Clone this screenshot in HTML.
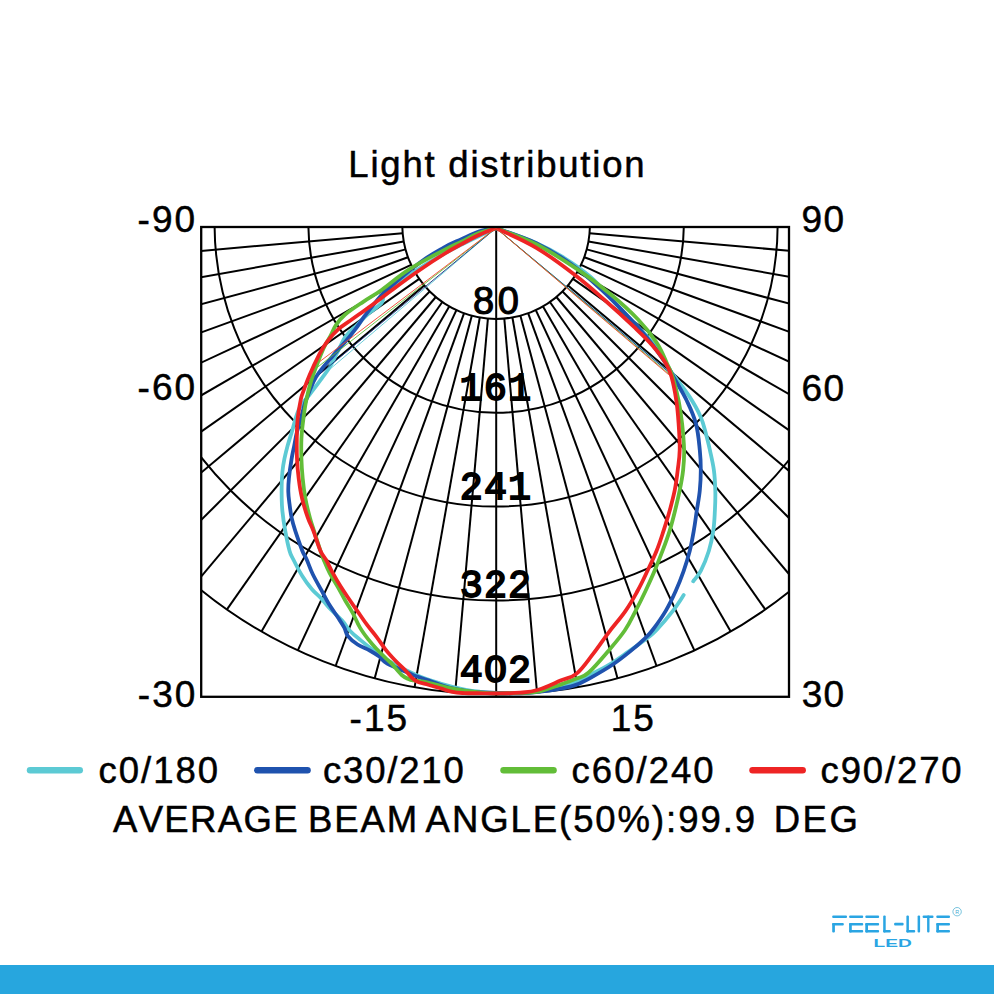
<!DOCTYPE html>
<html><head><meta charset="utf-8"><title>Light distribution</title>
<style>
html,body{margin:0;padding:0;background:#fff;}
body{width:994px;height:994px;overflow:hidden;position:relative;font-family:"Liberation Sans",sans-serif;}
svg{position:absolute;left:0;top:0;display:block;}
text{font-family:"Liberation Sans",sans-serif;fill:#000;}
.m{font-family:"Liberation Mono",monospace;font-weight:normal;stroke-width:1.8;letter-spacing:1.1px;}
</style></head>
<body>
<svg width="994" height="994" viewBox="0 0 994 994">
<defs><clipPath id="box"><rect x="201.2" y="227" width="587.8" height="469.8"/></clipPath></defs>
<rect x="0" y="0" width="994" height="994" fill="#fff"/>
<!-- grid -->
<g clip-path="url(#box)" fill="none" stroke="#000" stroke-width="2">
<circle cx="496.1" cy="225.1" r="93.8"/>
<circle cx="496.1" cy="225.1" r="187.7"/>
<circle cx="496.1" cy="225.1" r="281.5"/>
<circle cx="496.1" cy="225.1" r="375.4"/>
<circle cx="496.1" cy="225.1" r="469.2"/>
<path d="M487.9 318.6L455.2 692.5"/>
<path d="M504.3 318.6L537 692.5"/>
<path d="M479.8 317.5L414.6 687.2"/>
<path d="M512.4 317.5L577.6 687.2"/>
<path d="M471.8 315.7L374.7 678.3"/>
<path d="M520.4 315.7L617.5 678.3"/>
<path d="M464 313.3L335.6 666"/>
<path d="M528.2 313.3L656.6 666"/>
<path d="M456.4 310.1L297.8 650.3"/>
<path d="M535.8 310.1L694.4 650.3"/>
<path d="M449.2 306.4L261.5 631.4"/>
<path d="M543 306.4L730.7 631.4"/>
<path d="M442.3 302L227 609.4"/>
<path d="M549.9 302L765.2 609.4"/>
<path d="M435.8 297L194.5 584.5"/>
<path d="M556.4 297L797.7 584.5"/>
<path d="M429.7 291.5L164.3 556.9"/>
<path d="M562.5 291.5L827.9 556.9"/>
<path d="M424.2 285.4L136.7 526.7"/>
<path d="M568 285.4L855.5 526.7"/>
<path d="M419.2 278.9L111.8 494.2"/>
<path d="M573 278.9L880.4 494.2"/>
<path d="M414.8 272L89.8 459.7"/>
<path d="M577.4 272L902.4 459.7"/>
<path d="M411.1 264.8L70.9 423.4"/>
<path d="M581.1 264.8L921.3 423.4"/>
<path d="M407.9 257.2L55.2 385.6"/>
<path d="M584.3 257.2L937 385.6"/>
<path d="M405.5 249.4L42.9 346.5"/>
<path d="M586.7 249.4L949.3 346.5"/>
<path d="M403.7 241.4L34 306.6"/>
<path d="M588.5 241.4L958.2 306.6"/>
<path d="M402.6 233.3L28.7 266"/>
<path d="M589.6 233.3L963.5 266"/>
</g>
<path d="M496.2 227V696.8" stroke="#000" stroke-width="2" fill="none"/>
<!-- circle value labels -->
<g text-anchor="middle" stroke="#000" stroke-width="0.5">
<text x="497.8" y="314" font-size="38" letter-spacing="3.6" stroke-width="1.1">80</text>
<text class="m" x="496" y="399.8" font-size="38.6">161</text>
<text class="m" x="496" y="498.6" font-size="38.4">241</text>
<text class="m" x="496" y="596.5" font-size="38.4">322</text>
<text class="m" x="496" y="682.4" font-size="38.4">4O2</text>
</g>
<!-- curves -->
<g fill="none" stroke-width="3.8" stroke-linejoin="round" stroke-linecap="round">
<path d="M496 228.1C485.7 233.2 459.5 244.7 440 256C420.5 267.3 400.1 281.4 389.4 290C378.7 298.6 385.4 298.8 381.6 303.1C377.8 307.4 372.8 309.7 368.5 313.5C364.2 317.3 362.1 319.9 358 324C353.9 328.1 349.6 331.5 346.2 335.8C342.8 340.1 342.6 342 339.7 347.5C336.8 353 333.9 360.1 330.5 365.9C327.1 371.7 325.2 373.6 321.4 378.9C317.6 384.2 313.7 389.1 309.6 394.6C305.5 400.1 302.3 402 299 409C295.7 416 293.7 426 291.6 432.7C289.5 439.4 288.9 441 287.6 445.8C286.3 450.6 285.4 454.1 284.4 458.9C283.4 463.7 282.9 467.1 282.4 471.9C281.9 476.7 281.8 480.2 281.7 485C281.6 489.8 281.6 493.3 281.7 498.1C281.8 502.9 281.8 505.2 282.4 511.2C283 517.2 283.9 523.4 285.2 530.6C286.5 537.8 288 545.3 289.5 550.7C291 556.1 291.3 555.4 293.6 560C295.9 564.6 298.8 570.4 302.1 575.7C305.4 581 308.2 584.8 311.7 589C315.2 593.2 318.3 595.3 321.4 598.6C324.5 601.9 324.8 603.1 328.6 607.1C332.4 611.1 337.9 616 341.9 620.4C345.9 624.8 347.1 627.7 350.4 631.2C353.7 634.7 356 636.4 360 639.7C364 643 366.9 645.4 372.1 649.3C377.3 653.2 380.3 656.3 388.4 661C396.5 665.7 406.7 670.9 416.2 675C425.7 679.1 431.5 680.8 440.4 683.5C449.3 686.2 457.2 688 464.5 689.5C471.8 691 474 691.2 480 691.8C486 692.4 489.7 692.8 497 693C504.3 693.2 512 693.3 520 693C528 692.7 533 692.5 540.4 691.3C547.8 690.1 553.9 688.4 560.5 686.6C567.1 684.8 570.7 684 576.6 681.6C582.5 679.2 586.1 677.1 592.7 673.6C599.3 670.1 606.2 666.6 612.8 662.5C619.4 658.4 622.6 655.8 628.9 651.4C635.2 647 641.9 642.2 647 638.3C652.1 634.4 651.9 635 656.6 630C661.3 625 667.7 617.5 672.7 611.1C677.7 604.7 681.7 598 683.7 595M693.2 581.3C694.6 579.4 697.9 576.4 700.8 570.8C703.7 565.2 706.6 558.1 708.9 550.7C711.2 543.3 712.2 538 713.3 530.6C714.4 523.2 714.5 517.9 714.9 510.5C715.3 503.1 715.5 497.8 715.3 490.4C715.1 483 714.9 477.6 713.9 470.2C712.9 462.8 711.3 456.5 709.9 450.1C708.5 443.7 708 441.3 706.3 435.2C704.6 429.1 703.8 423.9 700.6 416.7C697.4 409.5 694.5 404.3 689 395.9C683.5 387.5 677.4 380.8 670.5 370.8C663.6 360.8 660.7 353 651.2 341.3C641.7 329.6 629.7 318.6 618.6 306.8C607.5 295 600.8 286.1 590.6 277C580.4 267.9 573 263.4 563 257.2C553 251 548.3 248.3 536 243C523.7 237.7 503.3 230.8 496 228.1" stroke="#5ccad4"/>
<path d="M329.2 369.8L496 228.1L670.6 373" stroke="#5fc8d8" stroke-width="0.9"/>
<path d="M496 228.1C493 228.7 485.8 229.4 479.5 231.4C473.2 233.4 468 236.2 461.4 239.2C454.8 242.2 450.8 243.6 443.3 247.8C435.8 252 430.8 254.5 420.4 262.2C410 269.9 395.4 282.3 386.8 290C378.2 297.7 377.8 299.6 373.7 304.4C369.6 309.2 367.9 311.7 364.5 316.2C361.1 320.7 359 324.4 355.4 329.2C351.8 334 349 337.5 344.9 342.3C340.8 347.1 337.7 350.1 333.2 355.4C328.7 360.7 323.7 366.3 320.1 371.1C316.5 375.9 316.1 376.1 313.5 381.6C310.9 387.1 308.1 394.2 305.7 401.2C303.3 408.2 302.1 414.2 300.5 420C298.9 425.8 298 428 296.8 432.7C295.6 437.4 295.2 441 294.2 445.8C293.2 450.6 292.6 452.9 291.6 458.9C290.6 464.9 289.5 472.5 288.9 478.5C288.3 484.5 288.2 486.8 288.3 491.6C288.4 496.4 289 499.8 289.6 504.6C290.2 509.4 290.6 512.9 291.6 517.7C292.6 522.5 293.2 524.6 295.2 530.6C297.2 536.6 300.2 545.3 302.3 550.7C304.4 556.1 305 555.6 306.9 560C308.8 564.4 310.2 569 312.9 574.5C315.6 580 318.5 584.9 321.4 590.2C324.3 595.5 325.5 598.4 328.6 603.5C331.7 608.6 335.4 613.6 338.3 618C341.2 622.4 342.5 624.3 344.3 627.6C346.1 630.9 345.5 633 347.9 636.1C350.3 639.2 353.6 641.9 357.6 644.5C361.6 647.1 365.7 648.3 369.7 650.5C373.7 652.7 376.1 654.2 379.3 656.6C382.5 659 382 660.6 387.2 663.5C392.4 666.4 402.5 670.3 407.8 672.6C413.1 674.9 412.4 674.8 416.2 676.2C420 677.6 423.9 678.8 428.3 680.4C432.7 682 436 683.3 440.4 684.7C444.8 686.1 448 687.2 452.4 688.3C456.8 689.4 460.5 690 464.5 690.7C468.5 691.4 469.7 691.5 474.2 691.9C478.7 692.3 480.6 692.4 489 692.7C497.4 693 510.8 693.5 520.2 693.3C529.6 693.1 533 692.5 540.4 691.7C547.8 690.9 553.9 690 560.5 688.7C567.1 687.4 570.7 686.8 576.6 684.6C582.5 682.4 586.1 680.3 592.7 676.6C599.3 672.9 606.2 668.9 612.8 664.5C619.4 660.1 623 657.2 628.9 652.4C634.8 647.6 640.7 642.4 645 638.3C649.3 634.2 648.8 635 652.6 630C656.4 625 661.4 618.2 665.6 611.1C669.8 604 672.4 598.4 675.7 591C679 583.6 681.1 578.2 683.7 570.8C686.3 563.4 687.9 558.1 689.8 550.7C691.7 543.3 692.5 538 693.8 530.6C695.1 523.2 695.7 517.9 696.8 510.5C697.9 503.1 699.1 497.8 699.8 490.4C700.5 483 700.8 477.6 700.8 470.2C700.8 462.8 700.7 458.6 699.8 450.1C698.9 441.6 698.3 432.7 695.9 423.6C693.5 414.5 690.5 408.5 686.7 400.5C682.9 392.5 678.9 386.5 675.1 379.7C671.3 372.9 671 371.1 665.9 363.5C660.8 355.9 654.1 346.5 647.3 338C640.5 329.5 637.3 326.1 628.8 317.2C620.3 308.3 611.7 299.2 601.1 289.4C590.5 279.6 582.9 272.5 571 264C559.1 255.5 550 249.7 536.3 243.1C522.5 236.5 503.4 230.8 496 228.1" stroke="#1f52ae"/>
<path d="M320.1 373.7L496 228.1L670.2 373.3" stroke="#17307c" stroke-width="0.9"/>
<path d="M496 228.1C493 229 485.8 230.3 479.5 232.8C473.2 235.3 468 238.4 461.4 241.6C454.8 244.8 453.1 245.1 443.5 250.3C433.9 255.5 420.1 262.4 408.8 269.7C397.5 277 390 284.1 381.6 290C373.2 295.9 369.9 297.3 363.2 301.8C356.5 306.3 349.9 310.5 344.9 314.8C339.9 319.1 338.4 321.4 335.8 325.3C333.2 329.2 332.7 331.7 330.5 335.8C328.3 339.9 326.4 342.5 324 347.5C321.6 352.5 319.9 356.9 317.5 363.2C315.1 369.5 313 374.6 310.9 381.6C308.8 388.6 307.5 394.2 306.1 401.2C304.7 408.2 304.2 412.6 303.3 419.6C302.4 426.6 301.7 432 301.4 439.2C301.1 446.4 301.2 451.7 301.4 458.9C301.6 466.1 302 471.3 302.7 478.5C303.4 485.7 304 490.9 305.3 498.1C306.6 505.3 308.3 511.7 309.9 517.7C311.5 523.7 312 524.6 313.9 530.6C315.8 536.6 318.6 545.3 320.4 550.7C322.2 556.1 322.1 555.9 323.8 560C325.5 564.1 327.1 568.2 329.8 573.3C332.5 578.4 335.4 582.7 338.3 587.8C341.2 592.9 342.8 596.4 345.5 601C348.2 605.6 350.1 608.2 352.8 613.1C355.5 618 357.1 622.7 360 627.6C362.9 632.5 365.4 635.7 368.5 639.7C371.6 643.7 373.6 645.8 376.9 649.3C380.2 652.8 383.8 656.3 386.6 659C389.4 661.7 389.3 661.2 392.1 664.1C394.9 667 398.6 672.2 401.7 675C404.8 677.8 406.8 678.2 409 679.2C411.2 680.2 410.3 679.8 413.8 680.4C417.3 681 421.8 681.3 428 682.6C434.2 683.9 440.9 686.2 447.6 687.7C454.3 689.2 458.2 689.8 464.5 690.7C470.8 691.6 476 692.1 482 692.6C488 693.1 490 693.2 497 693.3C504 693.4 512.6 693.2 520.2 692.9C527.8 692.6 531 693.2 538.4 691.7C545.8 690.2 553.5 687 560.5 684.6C567.5 682.2 571.4 680.8 576.6 678.6C581.8 676.4 582.8 677.7 588.7 672.5C594.6 667.3 602.2 658.1 608.8 650.4C615.4 642.7 620 637.5 624.9 630.3C629.8 623.1 631.7 618.3 635.5 611.1C639.3 603.9 642 598.4 645.5 591C649 583.6 651.5 578.2 654.6 570.8C657.7 563.4 659.8 558.1 662.6 550.7C665.4 543.3 667.4 538 669.7 530.6C672 523.2 673.3 517.9 675.1 510.5C676.9 503.1 678.2 497.8 679.7 490.4C681.2 483 682.3 477.6 683.1 470.2C683.9 462.8 684.3 458.6 684.1 450.1C683.9 441.6 683.1 432.7 682.1 423.6C681.1 414.5 680.3 409 678.6 400.5C676.9 392 674.9 384.1 672.8 377.3C670.7 370.5 670 369.9 667 363.5C664 357.1 661.9 350.7 656.6 342.6C651.3 334.5 646.6 328.4 638.1 319.5C629.6 310.6 621.3 303.1 610.3 294C599.3 284.9 591.5 278.8 577.9 269.7C564.3 260.6 551.3 251.9 536.3 244.3C521.3 236.7 503.4 231.1 496 228.1" stroke="#62bd38"/>
<path d="M317.5 367.2L496 228.1L669.2 374.1" stroke="#62bd38" stroke-width="0.9"/>
<path d="M496 228.1C493 229.3 485.8 231.8 479.5 234.8C473.2 237.8 467.7 240.8 461.4 244.2C455.1 247.6 452.8 248.7 445 253.5C437.2 258.3 428.7 263.8 419 270.5C409.3 277.2 400.8 283.5 392 290C383.2 296.5 378.3 300.4 371.1 305.7C363.9 311 358.8 314.5 352.8 318.8C346.8 323.1 343.2 324.9 338.4 329.2C333.6 333.5 330.2 337.5 326.6 342.3C323 347.1 321.9 349.4 318.8 355.4C315.7 361.4 312.5 368.3 309.6 375C306.7 381.7 304.7 387.4 303.1 392C301.5 396.6 301.7 394.9 300.7 400C299.7 405.1 298.3 412.4 297.6 419.6C296.9 426.8 296.9 432 296.8 439.2C296.7 446.4 296.7 451.7 297 458.9C297.3 466.1 297.8 471.3 298.7 478.5C299.6 485.7 300.3 490.9 302 498.1C303.7 505.3 305.7 511.7 307.8 517.7C309.9 523.7 311 524.6 313.3 530.6C315.6 536.6 318 545.3 320.4 550.7C322.8 556.1 324 556.1 326.2 560C328.4 563.9 329.6 567.2 332.3 572.1C335 577 337.4 581.3 340.7 586.6C344 591.9 347.1 596.1 350.4 601C353.7 605.9 355.7 608.7 358.8 613.1C361.9 617.5 364 620.8 367.3 625.2C370.6 629.6 373.6 632.9 376.9 637.3C380.2 641.7 382.1 645.1 385.4 649.3C388.7 653.5 391.6 656.6 395 660.2C398.4 663.8 400.4 665.3 404.1 669C407.8 672.7 410.6 677.5 415 680.4C419.4 683.3 423.6 683.3 428.3 684.7C433 686.1 436 687 440.4 688.3C444.8 689.6 448 691 452.4 691.9C456.8 692.8 459 692.8 464.5 693.1C470 693.4 476.6 693.2 482.6 693.3C488.6 693.4 490.1 693.6 497 693.5C503.9 693.4 512.6 693.4 520.2 692.7C527.8 692 531 691.9 538.4 689.7C545.8 687.5 553.5 683.6 560.5 680.6C567.5 677.6 570.7 678.4 576.6 673.6C582.5 668.8 586.8 662 592.7 654.4C598.6 646.8 602.8 640.2 608.8 632.3C614.8 624.4 620.1 618.7 625.4 611.1C630.7 603.5 633.4 598.4 637.5 591C641.6 583.6 644 578.2 647.5 570.8C651 563.4 653.6 558.1 656.6 550.7C659.6 543.3 661.2 538 663.6 530.6C666 523.2 667.7 517.9 669.7 510.5C671.7 503.1 673.2 497.8 674.7 490.4C676.2 483 676.8 477.6 677.7 470.2C678.6 462.8 679.5 458.6 679.7 450.1C679.9 441.6 679.2 432.7 678.6 423.6C678 414.5 677.6 409 676.3 400.5C675 392 673.5 384.1 671.6 377.3C669.7 370.5 669.5 369.4 665.9 363.5C662.3 357.6 657.9 351.8 652 345C646.1 338.2 642 334.5 633.5 326.4C625 318.3 616.3 310.3 605.7 301C595.1 291.7 588.3 285.3 575.6 275.5C562.9 265.7 550.9 256.5 536.3 247.8C521.7 239.1 503.4 231.7 496 228.1" stroke="#ee2424"/>
<path d="M320.1 361.3L496 228.1L668.6 374.6" stroke="#f0452a" stroke-width="0.9"/>
</g>
<rect x="201.2" y="227" width="587.8" height="469.8" fill="none" stroke="#000" stroke-width="2.3"/>
<!-- labels -->
<g stroke="#000" stroke-width="0.5" style="font-kerning:none">
<text x="348.3" y="177" letter-spacing="1.79" font-size="36.5">Light distribution</text>
<text x="137.5" y="232.4" letter-spacing="2.08" font-size="37">-90</text>
<text x="137.5" y="400.4" letter-spacing="2.08" font-size="37">-60</text>
<text x="137.7" y="707.2" letter-spacing="2.14" font-size="37">-30</text>
<text x="801.6" y="232.2" letter-spacing="1.30" font-size="37">90</text>
<text x="801.5" y="400.6" letter-spacing="1.42" font-size="37">60</text>
<text x="801.8" y="707.2" letter-spacing="1.15" font-size="37">30</text>
<text x="349.5" y="731" letter-spacing="2.08" font-size="37">-15</text>
<text x="610.7" y="731" letter-spacing="1.88" font-size="37">15</text>
<text x="98.6" y="783.2" letter-spacing="1.98" font-size="36.5">c0/180</text>
<text x="323" y="783.2" letter-spacing="1.80" font-size="36.5">c30/210</text>
<text x="571.6" y="783.2" letter-spacing="2.02" font-size="36.5">c60/240</text>
<text x="820.6" y="783.2" letter-spacing="1.85" font-size="36.5">c90/270</text>
<text x="112.9" y="832.1" letter-spacing="1.39" font-size="36.5">AVERAGE</text>
<text x="308" y="832.1" letter-spacing="1.93" font-size="36.5">BEAM</text>
<text x="425.6" y="832.1" letter-spacing="1.94" font-size="36.5">ANGLE(50%):99.9</text>
<text x="773.7" y="832.1" letter-spacing="2.52" font-size="36.5">DEG</text>
</g>
<!-- legend lines -->
<g fill="none" stroke-width="6.6" stroke-linecap="round">
<path d="M30.1 770.3H79.7" stroke="#5ccad4"/>
<path d="M257.4 770.3H307.5" stroke="#1f52ae"/>
<path d="M503.6 770.3H553.5" stroke="#62bd38"/>
<path d="M752.6 770.3H802.6" stroke="#ee2424"/>
</g>
<!-- logo -->
<g fill="#2aa5e3">
<rect x="832.2" y="915.6" width="14.8" height="2.5" rx="1"/><rect x="832.2" y="923" width="11.6" height="2.5" rx="1"/><rect x="832.2" y="923" width="2.7" height="9.4" rx="1"/>
<rect x="849.1" y="915.6" width="14.1" height="2.5" rx="1"/><rect x="849.1" y="923" width="14.1" height="2.5" rx="1"/><rect x="849.1" y="930" width="14.1" height="2.5" rx="1"/><rect x="849.1" y="923" width="2.7" height="9.4" rx="1"/>
<rect x="865.3" y="915.6" width="13.8" height="2.5" rx="1"/><rect x="865.3" y="923" width="13.8" height="2.5" rx="1"/><rect x="865.3" y="930" width="13.8" height="2.5" rx="1"/><rect x="865.3" y="923" width="2.7" height="9.4" rx="1"/>
<rect x="883.2" y="915.6" width="2.5" height="16.9" rx="1"/><rect x="883.2" y="930" width="7.6" height="2.5" rx="1"/>
<rect x="894.1" y="922.8" width="9.5" height="2.6" rx="1"/>
<rect x="906.4" y="915.6" width="2.5" height="16.9" rx="1"/><rect x="906.4" y="930" width="8.8" height="2.5" rx="1"/>
<rect x="917.6" y="915.6" width="2.5" height="16.9" rx="1"/>
<rect x="922.6" y="915.6" width="10.9" height="2.5" rx="1"/><rect x="927.1" y="915.6" width="2.4" height="16.9" rx="1"/>
<rect x="936.3" y="915.6" width="13.7" height="2.5" rx="1"/><rect x="936.3" y="923" width="13.7" height="2.5" rx="1"/><rect x="936.3" y="930" width="13.7" height="2.5" rx="1"/><rect x="936.3" y="923" width="2.7" height="9.4" rx="1"/>
<text x="873.6" y="946.6" font-size="11" font-weight="bold" textLength="38.2" lengthAdjust="spacingAndGlyphs" style="fill:#2aa5e3">LED</text>
</g>
<circle cx="957.1" cy="911.7" r="4.2" fill="none" stroke="#3ea9cf" stroke-width="0.7"/>
<text x="957.1" y="913.6" font-size="5.4" text-anchor="middle" style="fill:#3ea9cf">R</text>
<!-- bottom bar -->
<rect x="0" y="965" width="994" height="29" fill="#27a6de"/>
</svg>
</body></html>
